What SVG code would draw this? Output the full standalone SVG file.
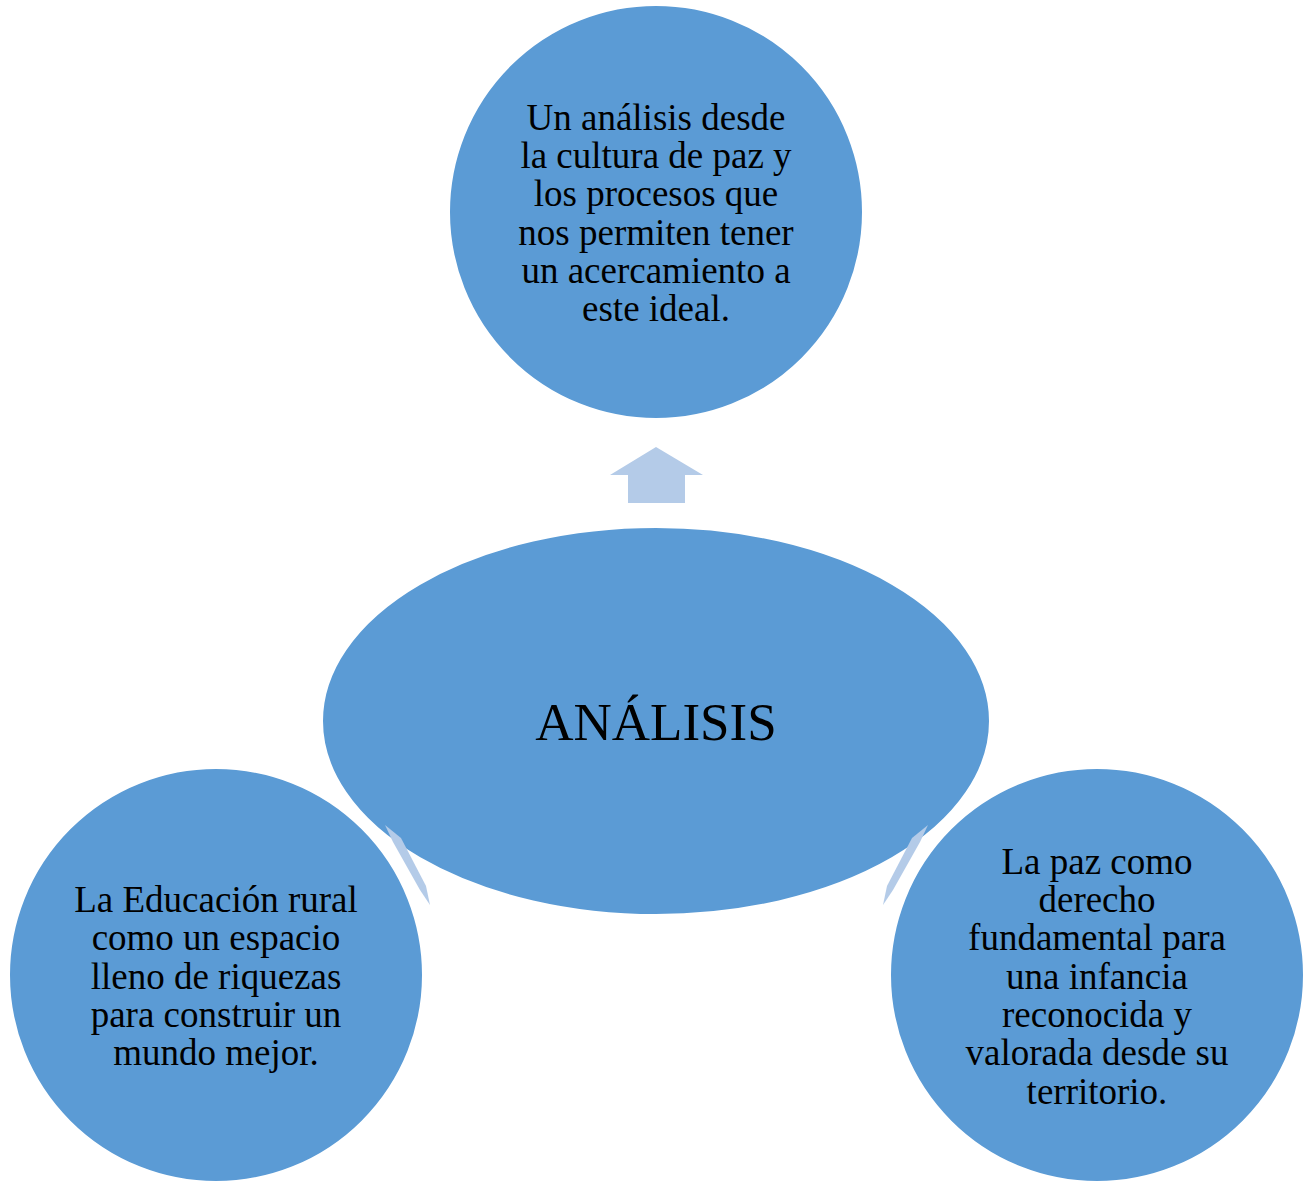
<svg xmlns="http://www.w3.org/2000/svg" width="1316" height="1181" viewBox="0 0 1316 1181">
<style>
.n{fill:#5B9BD5;stroke:#fff;stroke-width:2}
.a{fill:#B4CBE8}
.t{font-family:"Liberation Serif","Times New Roman",serif;font-size:37px;fill:#000;text-anchor:middle}
.c{font-family:"Liberation Serif","Times New Roman",serif;font-size:53px;fill:#000;text-anchor:middle}
</style>
<rect width="1316" height="1181" fill="#fff"/>
<g id="top">
<circle class="n" cx="656" cy="212" r="207"/>
<text class="t"><tspan x="656" y="130">Un análisis desde</tspan><tspan x="656" y="168">la cultura de paz y</tspan><tspan x="656" y="206">los procesos que</tspan><tspan x="656" y="245">nos permiten tener</tspan><tspan x="656" y="283">un acercamiento a</tspan><tspan x="656" y="321">este ideal.</tspan></text>
</g>
<g id="left">
<circle class="n" cx="216" cy="975" r="207"/>
<text class="t"><tspan x="216" y="912">La Educación rural</tspan><tspan x="216" y="950">como un espacio</tspan><tspan x="216" y="989">lleno de riquezas</tspan><tspan x="216" y="1027">para construir un</tspan><tspan x="216" y="1065">mundo mejor.</tspan></text>
</g>
<g id="right">
<circle class="n" cx="1097" cy="975" r="207"/>
<text class="t"><tspan x="1097" y="874">La paz como</tspan><tspan x="1097" y="912">derecho</tspan><tspan x="1097" y="950">fundamental para</tspan><tspan x="1097" y="989">una infancia</tspan><tspan x="1097" y="1027">reconocida y</tspan><tspan x="1097" y="1065">valorada desde su</tspan><tspan x="1097" y="1104">territorio.</tspan></text>
</g>
<g id="center">
<ellipse class="n" cx="656" cy="721" rx="334" ry="194"/>
<text class="c" x="656" y="740">ANÁLISIS</text>
</g>
<g id="connectors">
<polygon class="a" points="656,447 703,475 685,475 685,503 628,503 628,475 610,475"/>
<polygon class="a" points="385,825 401,838 426,886 430,905 420,890 393,842"/>
<polygon class="a" points="928,825 912,838 887,886 883,905 893,890 920,842"/>
</g>
</svg>
